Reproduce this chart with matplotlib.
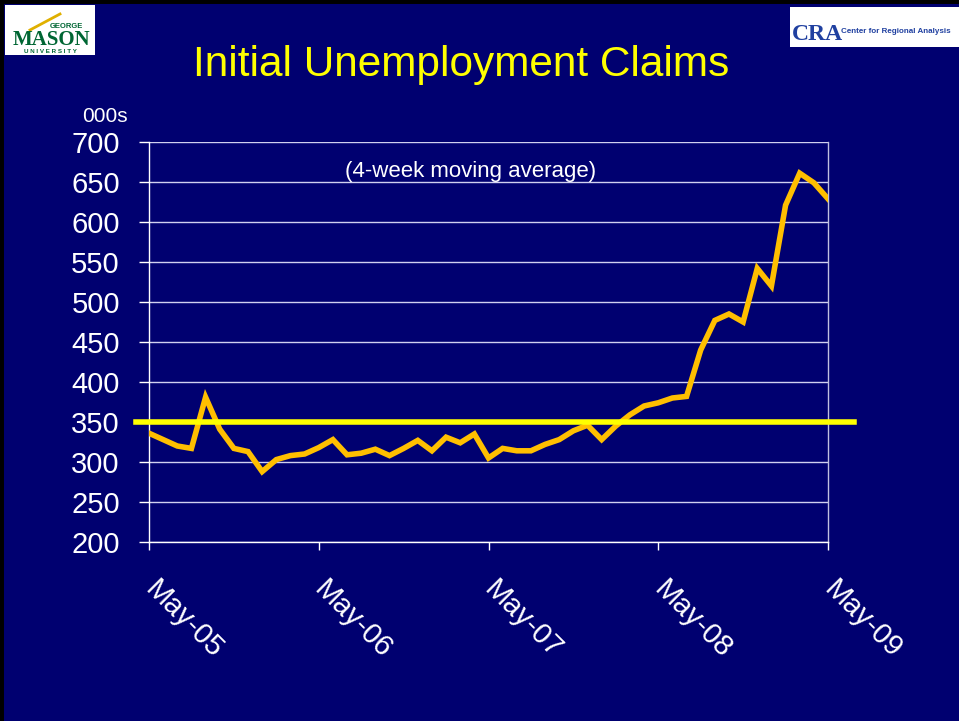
import numpy as np
import matplotlib
matplotlib.use("Agg")
import matplotlib.pyplot as plt
from matplotlib.patches import Rectangle
from matplotlib.transforms import ScaledTranslation

plt.rcParams['font.family'] = ['Liberation Sans', 'DejaVu Sans']

# ---- data ----
claims = [336, 328, 320, 317, 381, 341, 317, 313, 288, 303, 308, 310,
          318, 328, 309, 311, 316, 308, 317, 327, 314, 331, 324, 335,
          305, 317, 314, 314, 322, 328, 339, 346, 328, 345, 359, 370,
          374, 380, 382, 440, 477, 485, 475, 542, 520, 621, 661, 649, 629]
tick_pos = [0, 12, 24, 36, 48]
tick_labels = ['May-05', 'May-06', 'May-07', 'May-08', 'May-09']
y_ticks = [200, 250, 300, 350, 400, 450, 500, 550, 600, 650, 700]
threshold = 350

title = 'Initial Unemployment Claims'
note = '(4-week moving average)'
unit = '000s'

BG = '#000070'
W, H = 959, 721

fig = plt.figure(figsize=(W / 100, H / 100), dpi=100, facecolor=BG)
ax = fig.add_axes([149 / W, 1 - 542 / H, (828 - 149) / W, (542 - 142) / H])
ax.set_facecolor(BG)

x = np.arange(len(claims))
ax.set_xlim(0, len(claims) - 1)
ax.set_ylim(200, 700)
ax.set_yticks(y_ticks)
ax.set_yticklabels([str(v) for v in y_ticks])
ax.grid(axis='y', color='#D0D0F0', lw=1.0)
ax.set_axisbelow(True)

ax.plot(x, claims, color='#FFBF00', lw=4.0, solid_joinstyle='miter', zorder=3)
ax.axhline(threshold, xmin=-0.019, xmax=1.038, color='#FFFF00', lw=4.0,
           clip_on=False, zorder=4)

ax.spines['top'].set_visible(False)
ax.spines['left'].set_color('white')
ax.spines['bottom'].set_color('white')
ax.spines['right'].set_color('#C0C0E0')
for s in ['left', 'bottom', 'right']:
    ax.spines[s].set_linewidth(1.0)

ax.tick_params(axis='y', colors='white', labelsize=21, length=7, width=1,
               pad=14, direction='out')
ax.set_xticks(tick_pos)
ax.set_xticklabels(tick_labels)
ax.tick_params(axis='x', colors='white', labelsize=21, length=6, width=1,
               pad=18, direction='out')
off = ScaledTranslation(10 / 100, 0, fig.dpi_scale_trans)
for lab in ax.get_xticklabels():
    lab.set_rotation(-45)
    lab.set_ha('left')
    lab.set_va('top')
    lab.set_rotation_mode('anchor')
    lab.set_transform(lab.get_transform() + off)

# texts
fig.text(461 / W, 1 - 76 / H, title, color='#FFFF00', fontsize=30.5,
         ha='center', va='baseline')
fig.text(471 / W, 1 - 177 / H, note, color='white', fontsize=16,
         ha='center', va='baseline')
fig.text(105 / W, 1 - 122 / H, unit, color='white', fontsize=15,
         ha='center', va='baseline')

# logos (approximations)
fig.patches.append(Rectangle((5 / W, 1 - 55 / H), 90 / W, 50 / H,
                             transform=fig.transFigure, facecolor='white',
                             edgecolor='none', zorder=1))
fig.text(51 / W, 1 - 45 / H, 'MASON', color='#006633', fontsize=15,
         fontweight='bold', family=['Liberation Serif', 'DejaVu Serif'],
         ha='center', va='baseline')
fig.text(66 / W, 1 - 27.5 / H, 'GEORGE', color='#006633', fontsize=5.5,
         fontweight='bold', ha='center', va='baseline')
fig.text(50 / W, 1 - 53 / H, 'U N I V E R S I T Y', color='#006633',
         fontsize=4.5, fontweight='bold', ha='center', va='baseline')
fig.lines.append(plt.Line2D([30 / W, 60 / W], [1 - 30 / H, 1 - 14 / H],
                            transform=fig.transFigure, color='#E0B000', lw=2))

fig.patches.append(Rectangle((790 / W, 1 - 47 / H), 169 / W, 40 / H,
                             transform=fig.transFigure, facecolor='white',
                             edgecolor='none', zorder=1))
fig.text(792 / W, 1 - 40 / H, 'CRA', color='#2040A0', fontsize=17,
         fontweight='bold', family=['Liberation Serif', 'DejaVu Serif'],
         ha='left', va='baseline')
fig.text(841 / W, 1 - 33 / H, 'Center for Regional Analysis', color='#2040A0',
         fontsize=5.8, fontweight='bold', ha='left', va='baseline')

# dark slide edge (left and top)
fig.lines.append(plt.Line2D([0, 0], [0, 1], transform=fig.transFigure,
                            color='black', lw=5, zorder=10))
fig.lines.append(plt.Line2D([0, 1], [1, 1], transform=fig.transFigure,
                            color='black', lw=5, zorder=10))

fig.savefig('out.png', dpi=100, facecolor=BG)
